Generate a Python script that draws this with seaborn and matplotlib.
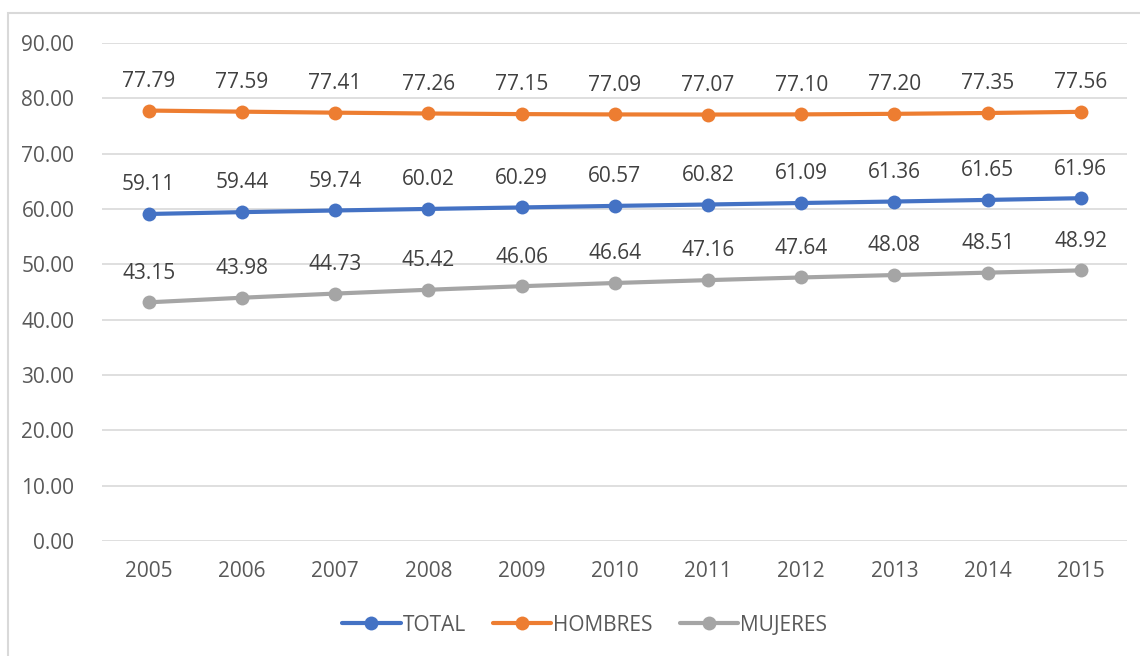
import pandas as pd
import seaborn as sns
import matplotlib.pyplot as plt
from matplotlib.patches import Rectangle
from matplotlib.ticker import FormatStrFormatter

years = [2005, 2006, 2007, 2008, 2009, 2010, 2011, 2012, 2013, 2014, 2015]
total = [59.11, 59.44, 59.74, 60.02, 60.29, 60.57, 60.82, 61.09, 61.36, 61.65, 61.96]
hombres = [77.79, 77.59, 77.41, 77.26, 77.15, 77.09, 77.07, 77.10, 77.20, 77.35, 77.56]
mujeres = [43.15, 43.98, 44.73, 45.42, 46.06, 46.64, 47.16, 47.64, 48.08, 48.51, 48.92]
series_names = ['TOTAL', 'HOMBRES', 'MUJERES']
colors = ['#4472C4', '#ED7D31', '#A5A5A5']

df = pd.DataFrame({'year': years * 3,
                   'value': total + hombres + mujeres,
                   'serie': [s for s in series_names for _ in years]})

sns.set_style('white')
plt.rcParams['font.family'] = ['Open Sans', 'DejaVu Sans']

fig = plt.figure(figsize=(11.4, 6.56), dpi=100)
ax = fig.add_axes([0.0895, 0.175, 0.8995, 0.7595])

sns.lineplot(data=df, x='year', y='value', hue='serie', hue_order=series_names,
             palette=colors, marker='o', markersize=10, linewidth=3,
             markeredgewidth=0, ax=ax, legend=True)

# data labels
for name, vals in zip(series_names, [total, hombres, mujeres]):
    for x, y in zip(years, vals):
        ax.annotate(f'{y:.2f}', (x, y), xytext=(0, 21), textcoords='offset points',
                    ha='center', va='center', fontsize=15, color='#404040')

ax.set_xlim(2004.5, 2015.5)
ax.set_ylim(0, 90)
ax.set_yticks(range(0, 91, 10))
ax.set_xticks(years)
ax.yaxis.set_major_formatter(FormatStrFormatter('%.2f'))
ax.grid(axis='y', color='#D9D9D9', linewidth=1.2)
ax.set_axisbelow(True)
for s in ax.spines.values():
    s.set_visible(False)
ax.tick_params(length=0, labelsize=15, labelcolor='#595959', pad=14)
ax.tick_params(axis='y', pad=20)
ax.set_xlabel('')
ax.set_ylabel('')

handles, labels = ax.get_legend_handles_labels()
ax.get_legend().remove()
fig.legend(handles, labels, loc='center', bbox_to_anchor=(0.513, 0.047), ncol=3,
           frameon=False, fontsize=15, labelcolor='#595959', handlelength=2.8,
           handletextpad=0.1, columnspacing=1.3)

fig.patches.append(Rectangle((8 / 1140, -0.01), 1.1, 1 - 13 / 656 + 0.01,
                             transform=fig.transFigure, fill=False,
                             edgecolor='#D9D9D9', linewidth=1.5))

fig.savefig('out.png', dpi=100)
